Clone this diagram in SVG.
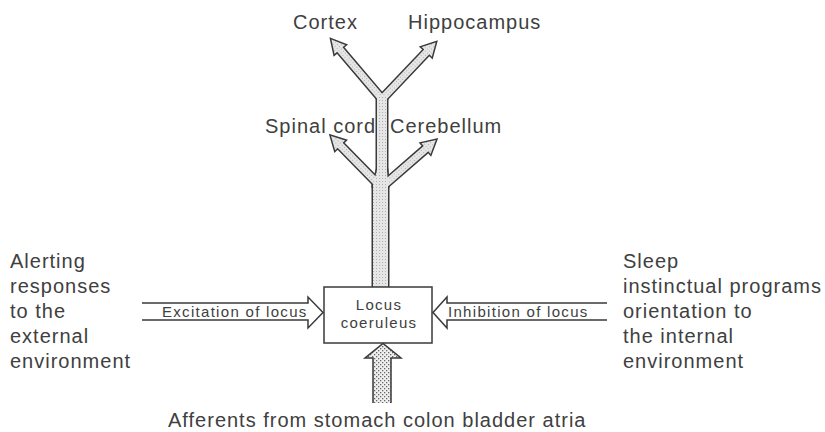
<svg xmlns="http://www.w3.org/2000/svg" width="825" height="432" viewBox="0 0 825 432">
  <style>
    .t { font-family: "Liberation Sans", Arial, sans-serif; font-size: 20px; letter-spacing: 1px; fill: #404040; }
    .s { font-family: "Liberation Sans", Arial, sans-serif; font-size: 15px; letter-spacing: 1.3px; fill: #404040; }
    .line { fill: none; stroke: #3a3a3a; stroke-width: 1.5; stroke-linejoin: miter; }
    .under { fill: #3a3a3a; stroke: #3a3a3a; stroke-width: 3; stroke-linejoin: miter; }
    .over { fill: url(#fine); stroke: none; }
  </style>
  <defs>
    <pattern id="fine" width="3" height="3" patternUnits="userSpaceOnUse">
      <rect width="3" height="3" fill="#e6e6e6"/>
      <rect x="1" y="1" width="1" height="1" fill="#b0b0b0"/>
    </pattern>
    <pattern id="coarse" width="4" height="4" patternUnits="userSpaceOnUse">
      <rect width="4" height="4" fill="#f0f0f0"/>
      <rect x="0" y="0" width="1.3" height="1.3" fill="#666"/>
      <rect x="2" y="2" width="1.3" height="1.3" fill="#666"/>
    </pattern>
    <polygon id="br78" points="0,-3.5 65,-3.5 65,-7 78,0 65,7 65,3.5 0,3.5"/>
    <polygon id="br70" points="0,-3.5 57,-3.5 57,-7 70,0 57,7 57,3.5 0,3.5"/>
  </defs>

  <rect width="825" height="432" fill="#ffffff"/>

  <g id="connectors">
    <!-- ascending projection tree: outlines first, fills on top (union outline) -->
    <g id="tree">
      <g class="under">
        <use href="#br78" transform="translate(382,99) rotate(-130.4)"/>
        <use href="#br78" transform="translate(382,99) rotate(-46.5)"/>
        <use href="#br70" transform="translate(380,186) rotate(-134.4)"/>
        <use href="#br70" transform="translate(383,186) rotate(-41)"/>
        <rect x="377" y="96" width="10" height="100"/>
        <rect x="373" y="182" width="15" height="105"/>
        <polygon points="377,170 387,170 388,186 373,186"/>
      </g>
      <g class="over">
        <use href="#br78" transform="translate(382,99) rotate(-130.4)"/>
        <use href="#br78" transform="translate(382,99) rotate(-46.5)"/>
        <use href="#br70" transform="translate(380,186) rotate(-134.4)"/>
        <use href="#br70" transform="translate(383,186) rotate(-41)"/>
        <rect x="377" y="96" width="10" height="100"/>
        <rect x="373" y="182" width="15" height="105"/>
        <polygon points="377,170 387,170 388,186 373,186"/>
      </g>
    </g>

    <!-- excitation arrow -->
    <g id="excitation">
      <path class="line" d="M142,303 H308 V297 L323,312.5 L308,328 V320 H142" fill="#fff"/>
    </g>

    <!-- inhibition arrow -->
    <g id="inhibition">
      <path class="line" d="M607,303 H447 V297 L433,312.5 L447,328 V320 H607" fill="#fff"/>
    </g>

    <!-- afferent arrow -->
    <g id="afferents-arrow">
      <polygon points="373,403 373,358 365,358 383,343.5 401,358 391,358 391,403" fill="url(#coarse)"/>
      <polyline class="line" points="373,403 373,358 365,358 383,343.5 401,358 391,358 391,403"/>
    </g>
  </g>

  <g id="locus-coeruleus">
    <rect x="324" y="287" width="108" height="56" fill="#fff" stroke="#3a3a3a" stroke-width="1.5"/>
    <text class="s" x="379" y="310" text-anchor="middle">Locus</text>
    <text class="s" x="379" y="328" text-anchor="middle">coeruleus</text>
  </g>

  <g id="label-excitation">
    <text class="s" x="162" y="317">Excitation of locus</text>
  </g>
  <g id="label-inhibition">
    <text class="s" x="448" y="317">Inhibition of locus</text>
  </g>

  <g id="cortex"><text class="t" x="293" y="29">Cortex</text></g>
  <g id="hippocampus"><text class="t" x="408" y="29">Hippocampus</text></g>
  <g id="spinal-cord"><text class="t" x="265" y="133">Spinal cord</text></g>
  <g id="cerebellum"><text class="t" x="390" y="133">Cerebellum</text></g>

  <g id="alerting">
    <text class="t" x="10" y="268">Alerting</text>
    <text class="t" x="10" y="293">responses</text>
    <text class="t" x="10" y="318">to the</text>
    <text class="t" x="10" y="343">external</text>
    <text class="t" x="10" y="368">environment</text>
  </g>

  <g id="sleep">
    <text class="t" x="623" y="268">Sleep</text>
    <text class="t" x="623" y="293">instinctual programs</text>
    <text class="t" x="623" y="318">orientation to</text>
    <text class="t" x="623" y="343">the internal</text>
    <text class="t" x="623" y="368">environment</text>
  </g>

  <g id="afferents">
    <text class="t" x="168" y="427">Afferents from stomach colon bladder atria</text>
  </g>
</svg>
